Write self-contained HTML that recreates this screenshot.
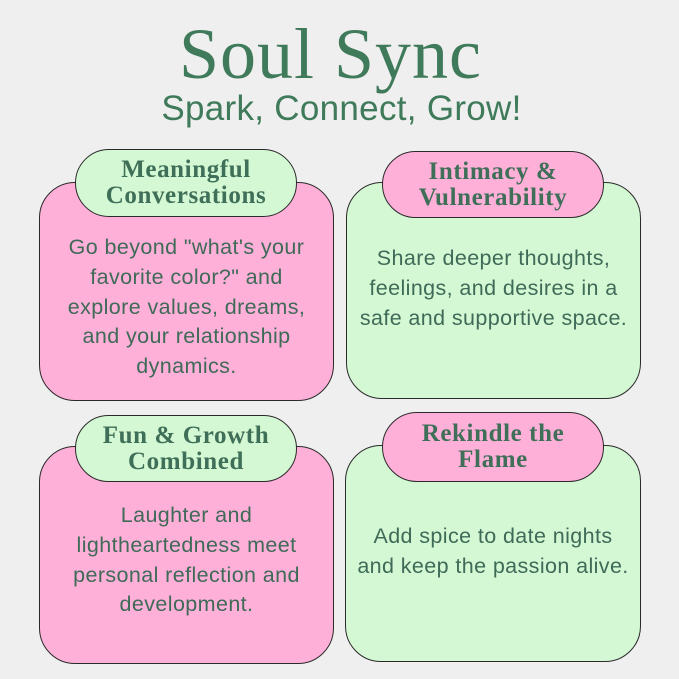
<!DOCTYPE html>
<html><head><style>
body{margin:0;width:679px;height:679px;background:#efefef;position:relative;overflow:hidden;font-family:"Liberation Sans",sans-serif;color:#3f6f58}
.t{position:absolute;left:0;width:679px;text-align:center}
.box{position:absolute;border:1.5px solid #2a2a2a;border-radius:36px;box-sizing:border-box}
.tab{position:absolute;border:1.5px solid #2a2a2a;border-radius:36px;box-sizing:border-box;display:flex;align-items:center;justify-content:center;text-align:center;font-family:"Liberation Serif",serif;font-weight:bold;font-size:25px;letter-spacing:0.6px;line-height:26px;color:#3f6f58}
.p{background:#ffb0d8}.g{background:#d3f8d3}
.body{position:absolute;text-align:center;font-size:21.5px;letter-spacing:0.4px;line-height:29.8px;color:#3f6a58}
</style></head><body>
<div class="t" style="top:14px;font-family:'Liberation Serif',serif;font-size:72px;line-height:80px;color:#3f7a5a;left:-9px;letter-spacing:1px">Soul Sync</div>
<div class="t" style="top:88px;font-size:35px;line-height:42px;color:#3f7a5a;left:2px;letter-spacing:0.3px">Spark, Connect, Grow!</div>

<div class="box p" style="left:39px;top:182px;width:295px;height:219px"></div>
<div class="tab g" style="left:75px;top:149px;width:222px;height:68px">Meaningful<br>Conversations</div>
<div class="body" style="left:39px;top:233px;width:295px">Go beyond "what's your<br>favorite color?" and<br>explore values, dreams,<br>and your relationship<br>dynamics.</div>

<div class="box g" style="left:346px;top:182px;width:295px;height:217px"></div>
<div class="tab p" style="left:382px;top:151px;width:222px;height:67px">Intimacy &amp;<br>Vulnerability</div>
<div class="body" style="left:346px;top:244px;width:295px">Share deeper thoughts,<br>feelings, and desires in a<br>safe and supportive space.</div>

<div class="box p" style="left:39px;top:446px;width:295px;height:218px"></div>
<div class="tab g" style="left:75px;top:415px;width:222px;height:67px">Fun &amp; Growth<br>Combined</div>
<div class="body" style="left:39px;top:501px;width:295px">Laughter and<br>lightheartedness meet<br>personal reflection and<br>development.</div>

<div class="box g" style="left:345px;top:445px;width:296px;height:217px"></div>
<div class="tab p" style="left:382px;top:412px;width:222px;height:70px">Rekindle the<br>Flame</div>
<div class="body" style="left:345px;top:522px;width:296px">Add spice to date nights<br>and keep the passion alive.</div>
</body></html>
